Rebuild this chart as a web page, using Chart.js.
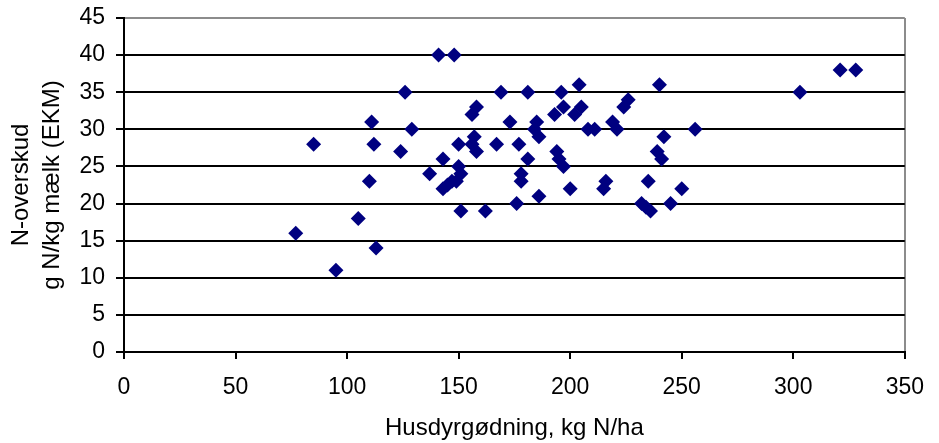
<!DOCTYPE html>
<html>
<head>
<meta charset="utf-8">
<script src="https://cdn.jsdelivr.net/npm/chart.js@4"></script>
<style>
html,body{margin:0;padding:0;background:#fff;}
#wrap{width:939px;height:443px;position:relative;}
</style>
</head>
<body>
<div id="wrap"><canvas id="c" width="939" height="443"></canvas></div>
<script>
// Husdyrgødning (kg N/ha)
const manureN = [77,85,95,105,110,111,112,113,124,126,129,137,141,143,143,145,147,148,149,150,150,151,151,156,156,157,158,158,162,167,169,173,176,177,178,178,181,181,184,185,186,186,193,194,195,196,197,197,200,202,204,205,208,211,215,216,219,221,224,226,232,234,236,235,239,240,241,242,245,250,256,303,321,328];
// N-overskud (g N/kg mælk EKM)
const nSurplus = [16,28,11,18,23,31,28,14,27,35,30,24,40,26,22,22.5,23,40,23,25,28,24,19,32,28,29,33,27,19,28,35,31,20,28,24,23,35,26,30,31,29,21,32,27,26,35,25,33,22,32,36,33,30,30,22,23,31,30,33,34,20,19.5,19,23,27,36,26,29,20,22,30,35,38,38];
const xTicks = [0,50,100,150,200,250,300,350];
const yTicks = [0,5,10,15,20,25,30,35,40,45];
const xTitle = 'Husdyrgødning, kg N/ha';
const yTitle = ['N-overskud','g N/kg mælk (EKM)'];

const points = manureN.map((x,i)=>({x:x,y:nSurplus[i]}));
const FONT = "'Liberation Sans', Arial, sans-serif";

new Chart(document.getElementById('c'), {
  type: 'scatter',
  data: { datasets: [{
    data: points,
    pointStyle: 'rectRot',
    pointRadius: 7.5,
    pointHoverRadius: 7.5,
    backgroundColor: '#000080',
    borderColor: '#000080',
    borderWidth: 0
  }]},
  options: {
    responsive: false,
    animation: false,
    events: [],
    layout: { padding: { left: 0, right: 30, top: 18, bottom: 0 } },
    plugins: { legend: { display: false }, tooltip: { enabled: false } },
    scales: {
      x: {
        type: 'linear', min: 0, max: 350,
        afterBuildTicks: s => { s.ticks = xTicks.map(v=>({value:v})); },
        afterFit: s => { s.height = 91; },
        border: { display: true, color: '#000', width: 2 },
        grid: {
          color: ctx => (ctx.tick && ctx.tick.value === 350) ? '#8c8c8c' : 'rgba(0,0,0,0)',
          tickColor: '#000', tickLength: 7, lineWidth: 2
        },
        ticks: { color: '#000', padding: 15, maxRotation: 0, font: { family: FONT, size: 23 } },
        title: { display: true, text: xTitle, color: '#000', font: { family: FONT, size: 24, lineHeight: 1.0 }, padding: { top: 0, bottom: 3 } }
      },
      y: {
        type: 'linear', min: 0, max: 45,
        afterBuildTicks: s => { s.ticks = yTicks.map(v=>({value:v})); },
        afterFit: s => { s.width = 124; s.paddingTop = 5; s.paddingBottom = 5; },
        border: { display: true, color: '#000', width: 2 },
        grid: {
          color: ctx => (ctx.tick && ctx.tick.value === 45) ? '#8c8c8c' : '#000',
          tickColor: '#000', tickLength: 8, lineWidth: 2
        },
        ticks: { color: '#000', padding: 11, font: { family: FONT, size: 23 } },
        title: { display: true, text: yTitle, color: '#000', font: { family: FONT, size: 24, lineHeight: 1.3 }, padding: { top: 6, bottom: 0 } }
      }
    }
  }
});
</script>
</body>
</html>
